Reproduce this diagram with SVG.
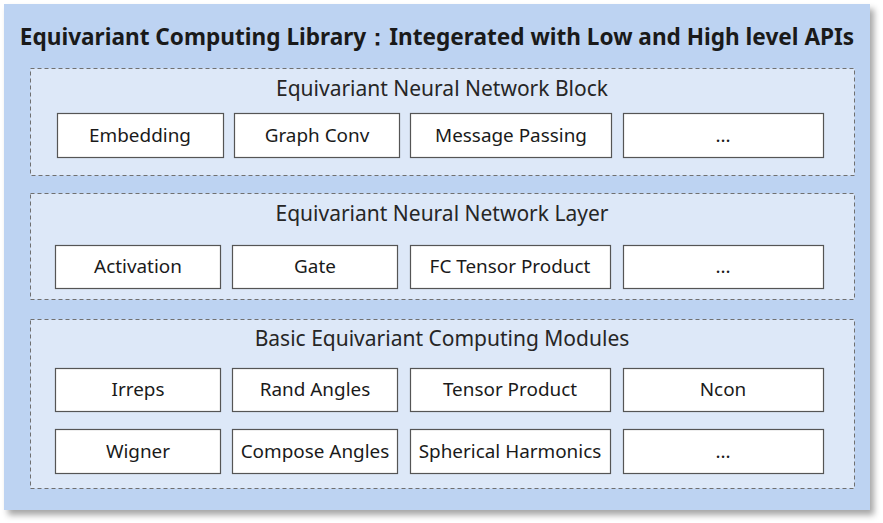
<svg xmlns="http://www.w3.org/2000/svg" width="883" height="523" viewBox="0 0 883 523">
<defs>
<filter id="sh" x="-5%" y="-5%" width="112%" height="115%">
<feDropShadow dx="4" dy="5" stdDeviation="3" flood-color="#000" flood-opacity="0.35"/>
</filter>
</defs>
<style>
.outer{fill:#BDD3F2;}
.panel{fill:#DDE8F8;stroke:#707070;stroke-width:1;stroke-dasharray:4 3;}
.box{fill:#FFFFFF;stroke:#555555;stroke-width:1.2;}
text{font-family:"Noto Sans","Open Sans","Liberation Sans",sans-serif;fill:#1a1a1a;text-anchor:middle;}
.title{font-size:22.6px;font-weight:bold;}
.ptitle{font-size:21px;fill:#262626;}
.lbl{font-size:18.9px;}
</style>
<rect x="0" y="0" width="883" height="523" fill="#FFFFFF"/>
<g id="library">
<rect class="outer" x="4" y="4" width="866" height="506" filter="url(#sh)"/>
<text class="title" x="437" y="45">Equivariant Computing Library：Integerated with Low and High level APIs</text>
</g>
<g id="block">
<rect class="panel" x="30.5" y="68.5" width="824" height="107"/>
<text class="ptitle" x="442" y="96">Equivariant Neural Network Block</text>
</g>
<g id="layer">
<rect class="panel" x="30.5" y="193.5" width="824" height="106"/>
<text class="ptitle" x="442" y="221">Equivariant Neural Network Layer</text>
</g>
<g id="basic">
<rect class="panel" x="30.5" y="319.5" width="824" height="169"/>
<text class="ptitle" x="442" y="346">Basic Equivariant Computing Modules</text>
</g>
<g id="embedding"><rect class="box" x="57.5" y="113.5" width="166" height="44"/><text class="lbl" x="140" y="142">Embedding</text></g>
<g id="graphconv"><rect class="box" x="234.5" y="113.5" width="165" height="44"/><text class="lbl" x="317" y="142">Graph Conv</text></g>
<g id="messagepassing"><rect class="box" x="410.5" y="113.5" width="201" height="44"/><text class="lbl" x="511" y="142">Message Passing</text></g>
<g id="block-more"><rect class="box" x="623.5" y="113.5" width="200" height="44"/><text class="lbl" x="723" y="142">...</text></g>
<g id="activation"><rect class="box" x="55.5" y="245.5" width="165" height="43"/><text class="lbl" x="138" y="273">Activation</text></g>
<g id="gate"><rect class="box" x="232.5" y="245.5" width="165" height="43"/><text class="lbl" x="315" y="273">Gate</text></g>
<g id="fctp"><rect class="box" x="410.5" y="245.5" width="200" height="43"/><text class="lbl" x="510" y="273">FC Tensor Product</text></g>
<g id="layer-more"><rect class="box" x="623.5" y="245.5" width="200" height="43"/><text class="lbl" x="723" y="273">...</text></g>
<g id="irreps"><rect class="box" x="55.5" y="368.5" width="165" height="43"/><text class="lbl" x="138" y="396">Irreps</text></g>
<g id="randangles"><rect class="box" x="232.5" y="368.5" width="165" height="43"/><text class="lbl" x="315" y="396">Rand Angles</text></g>
<g id="tensorproduct"><rect class="box" x="410.5" y="368.5" width="200" height="43"/><text class="lbl" x="510" y="396">Tensor Product</text></g>
<g id="ncon"><rect class="box" x="623.5" y="368.5" width="200" height="43"/><text class="lbl" x="723" y="396">Ncon</text></g>
<g id="wigner"><rect class="box" x="55.5" y="429.5" width="165" height="44"/><text class="lbl" x="138" y="458">Wigner</text></g>
<g id="composeangles"><rect class="box" x="232.5" y="429.5" width="165" height="44"/><text class="lbl" x="315" y="458">Compose Angles</text></g>
<g id="sphericalharmonics"><rect class="box" x="410.5" y="429.5" width="200" height="44"/><text class="lbl" x="510" y="458">Spherical Harmonics</text></g>
<g id="basic-more"><rect class="box" x="623.5" y="429.5" width="200" height="44"/><text class="lbl" x="723" y="458">...</text></g>
<g id="connectors"/>
</svg>
